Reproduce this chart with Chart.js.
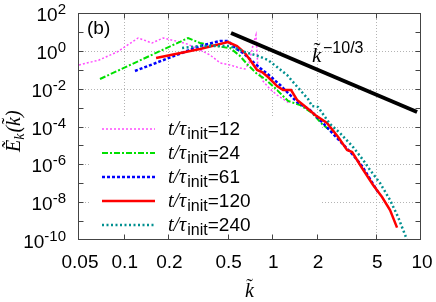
<!DOCTYPE html>
<html>
<head>
<meta charset="utf-8">
<script src="https://cdn.jsdelivr.net/npm/chart.js@4"></script>
<style>
  html, body { margin: 0; padding: 0; background: #fff; }
  #wrap { width: 436px; height: 302px; }
</style>
</head>
<body>
<div id="wrap"><canvas id="myChart"></canvas></div>
<script>
// spectra, k~ and E~_k(k~)
const k12 = [0.05, 0.0682, 0.0902, 0.125, 0.155, 0.184, 0.239, 0.267, 0.326, 0.381, 0.445, 0.519, 0.606, 0.654, 0.697, 0.741, 0.776, 0.801, 0.865, 0.964, 1.075, 1.295];
const e12 = [0.178, 0.327, 0.867, 4.77, 2.59, 4.77, 2.93, 2.30, 1.11, 0.603, 0.228, 0.178, 0.124, 0.110, 0.228, 2.03, 6.87, 0.097, 0.0254, 0.0096, 0.00462, 0.00175];

const k24 = [0.0692, 0.271, 0.326, 0.411, 0.519, 0.606, 0.675, 0.789, 0.893, 1.042, 1.275, 1.535, 1.849, 2.16, 2.52];
const e24 = [0.0324, 4.77, 2.59, 1.80, 1.41, 0.533, 0.201, 0.0596, 0.0324, 0.0108, 0.00223, 0.00137, 0.000518, 0.000136, 5.1e-5];

const k61 = [0.119, 0.326, 0.445, 0.503, 0.561, 0.635, 0.730, 0.826, 0.964, 1.127, 1.466, 1.792, 2.19, 2.72, 3.49, 4.01, 5.14];
const e61 = [0.0859, 1.80, 3.31, 3.31, 1.41, 0.769, 0.290, 0.124, 0.0468, 0.0156, 0.00197, 0.000745, 0.000153, 2.47e-5, 3.12e-6, 8.2e-7, 3.45e-8];

const k120 = [0.165, 0.326, 0.503, 0.578, 0.654, 0.708, 0.789, 0.852, 0.935, 1.075, 1.18, 1.336, 1.466, 1.71, 1.94, 2.33, 2.77, 3.18, 3.44, 4.01, 4.76, 5.47, 6.19, 6.90];
const e120 = [0.418, 1.25, 2.93, 1.80, 0.769, 0.327, 0.097, 0.076, 0.0414, 0.0138, 0.00851, 0.00851, 0.00252, 0.00095, 0.000405, 0.000153, 2.79e-5, 5.73e-6, 4.49e-6, 6.4e-7, 8.1e-8, 1.87e-8, 3.85e-9, 4.5e-10];

const k240 = [0.247, 0.326, 0.424, 0.519, 0.654, 0.801, 0.935, 1.075, 1.255, 1.535, 1.738, 1.849, 2.03, 2.44, 2.85, 3.49, 4.08, 4.54, 5.30, 6.19, 7.01, 8.06];
const e240 = [1.41, 1.80, 1.80, 1.80, 0.867, 0.533, 0.327, 0.140, 0.0528, 0.00851, 0.00284, 0.00121, 0.00107, 0.000136, 4.53e-5, 8.2e-6, 1.69e-6, 5.0e-7, 1.03e-7, 1.30e-8, 1.64e-9, 1.0e-10];

// reference slope k^-10/3
const slopeK = [0.527, 9.41];
const slopeE = [8.77, 5.85e-4];

const xTicks = [0.05, 0.1, 0.2, 0.5, 1, 2, 5, 10];
const xTickLabels = ['0.05', '0.1', '0.2', '0.5', '1', '2', '5', '10'];
const yTickExp = [2, 0, -2, -4, -6, -8, -10];
const legendTimes = ['12', '24', '61', '120', '240'];

const pts = (ks, es) => ks.map((k, i) => ({ x: k, y: es[i] }));

const sans = '"Liberation Sans", Arial, sans-serif';
const serif = '"Liberation Serif", "Times New Roman", serif';

function seg(ctx, x1, y1, x2, y2) {
    ctx.beginPath(); ctx.moveTo(x1, y1); ctx.lineTo(x2, y2); ctx.stroke();
}

function drawTildeK(ctx, x, y, size) {
    ctx.font = 'italic ' + size + 'px ' + serif;
    ctx.fillText('k', x, y);
    const w = ctx.measureText('k').width;
    ctx.font = size + 'px ' + serif;
    ctx.fillText('\u02DC', x + w * 0.15, y - size * 0.22);
    return w;
}

const deco = {
    id: 'deco',
    beforeDatasetsDraw(chart) {
        const { ctx, chartArea: a, scales: { x, y } } = chart;
        ctx.save();
        ctx.strokeStyle = '#b4b4b4';
        ctx.lineWidth = 1;
        ctx.setLineDash([1, 2]);
        xTicks.slice(1, -1).forEach(v => {
            const px = Math.round(x.getPixelForValue(v)) + 0.5;
            seg(ctx, px, a.top, px, a.bottom);
        });
        yTickExp.slice(1, -1).forEach(e => {
            const py = Math.round(y.getPixelForValue(Math.pow(10, e))) + 0.5;
            seg(ctx, a.left, py, a.right, py);
        });
        ctx.setLineDash([]);
        // legend background
        ctx.fillStyle = '#fff';
        ctx.fillRect(a.left + 12, 116, 231, a.bottom - 117);
        ctx.restore();
    },
    afterDatasetsDraw(chart) {
        const { ctx, chartArea: a, scales: { x, y } } = chart;
        ctx.save();
        // frame + inward ticks
        ctx.strokeStyle = '#444';
        ctx.lineWidth = 1;
        const L = Math.round(a.left) - 0.5, R = Math.round(a.right) - 0.5;
        const T = Math.round(a.top) + 0.5, B = Math.round(a.bottom) - 0.5;
        ctx.strokeRect(L, T, R - L, B - T);
        for (let e = 1; e >= -9; e--) {
            const py = Math.round(y.getPixelForValue(Math.pow(10, e))) + 0.5;
            seg(ctx, L, py, L + 5, py);
            seg(ctx, R, py, R - 5, py);
        }
        xTicks.slice(1, -1).forEach(v => {
            const px = Math.round(x.getPixelForValue(v)) + 0.5;
            seg(ctx, px, B, px, B - 5);
            seg(ctx, px, T, px, T + 5);
        });

        ctx.fillStyle = '#000';
        ctx.textBaseline = 'alphabetic';
        // x tick labels
        ctx.font = '19px ' + sans;
        ctx.textAlign = 'center';
        xTicks.forEach((v, i) => ctx.fillText(xTickLabels[i], x.getPixelForValue(v) + 1, 268));
        // y tick labels 10^n
        ctx.textAlign = 'left';
        yTickExp.forEach(e => {
            const py = y.getPixelForValue(Math.pow(10, e));
            const sup = String(e);
            ctx.font = '15px ' + sans;
            const ws = ctx.measureText(sup).width;
            ctx.font = '19px ' + sans;
            const wb = ctx.measureText('10').width;
            ctx.fillText('10', 66 - ws - wb, py + 8);
            ctx.font = '15px ' + sans;
            ctx.fillText(sup, 66 - ws, py + 1);
        });

        // axis titles
        const kw = 0;
        drawTildeK(ctx, 245, 297, 20);
        ctx.save();
        ctx.translate(20, 152);
        ctx.rotate(-Math.PI / 2);
        ctx.font = 'italic 20px ' + serif;
        ctx.fillText('\u1EBC', 0, 0);
        let off = ctx.measureText('\u1EBC').width;
        ctx.font = 'italic 14px ' + serif;
        ctx.fillText('k', off, 4);
        off += ctx.measureText('k').width + 1;
        ctx.font = 'italic 20px ' + serif;
        ctx.fillText('(', off, 0);
        off += ctx.measureText('(').width;
        off += drawTildeK(ctx, off, 0, 20);
        ctx.font = 'italic 20px ' + serif;
        ctx.fillText(')', off, 0);
        ctx.restore();

        // panel label
        ctx.font = '19px ' + sans;
        ctx.fillText('(b)', 87, 34);

        // slope annotation
        drawTildeK(ctx, 312, 62, 21);
        ctx.font = '16px ' + sans;
        ctx.fillText('\u221210/3', 323, 53);

        // legend
        chart.data.datasets.slice(0, 5).forEach((ds, i) => {
            const cy = 129 + i * 24;
            ctx.strokeStyle = ds.borderColor;
            ctx.lineWidth = ds.borderWidth;
            ctx.setLineDash(ds.borderDash || []);
            seg(ctx, 102, cy, 155, cy);
            ctx.setLineDash([]);
            let tx = 168;
            ctx.font = 'italic 20px ' + serif;
            ctx.fillText('t/\u03C4', tx, cy + 6);
            tx += ctx.measureText('t/\u03C4').width + 1;
            ctx.font = '16px ' + sans;
            ctx.fillText('init', tx, cy + 10);
            tx += ctx.measureText('init').width;
            ctx.font = '19px ' + sans;
            ctx.fillText('=' + legendTimes[i], tx, cy + 6);
        });
        ctx.restore();
    }
};

const ctx = document.getElementById('myChart').getContext('2d');
const myChart = new Chart(ctx, {
    type: 'line',
    data: {
        datasets: [
            { data: pts(k12, e12), borderColor: '#ff4dff', borderWidth: 1.5, borderDash: [2, 2], order: 5 },
            { data: pts(k24, e24), borderColor: '#00e000', borderWidth: 2, borderDash: [6, 2, 2, 2], order: 4 },
            { data: pts(k61, e61), borderColor: '#0000ff', borderWidth: 2.5, borderDash: [3, 2], order: 3 },
            { data: pts(k120, e120), borderColor: '#ff0000', borderWidth: 2.5, order: 2 },
            { data: pts(k240, e240), borderColor: '#009090', borderWidth: 2.5, borderDash: [2, 2.5], order: 1 },
            { data: pts(slopeK, slopeE), borderColor: '#000', borderWidth: 4, order: 0 }
        ]
    },
    options: {
        responsive: true,
        maintainAspectRatio: false,
        animation: false,
        events: [],
        layout: { padding: { top: 13, right: 15, left: 0, bottom: 0 } },
        elements: { point: { radius: 0 }, line: { tension: 0, fill: false, borderCapStyle: 'butt' } },
        plugins: { legend: { display: false }, tooltip: { enabled: false } },
        scales: {
            x: {
                type: 'logarithmic', min: 0.05, max: 10,
                grid: { display: false }, border: { display: false },
                ticks: { display: false },
                afterFit: s => { s.height = 62; }
            },
            y: {
                type: 'logarithmic', min: 1e-10, max: 100,
                grid: { display: false }, border: { display: false },
                ticks: { display: false },
                afterFit: s => { s.width = 79; }
            }
        }
    },
    plugins: [deco]
});
</script>
</body>
</html>
